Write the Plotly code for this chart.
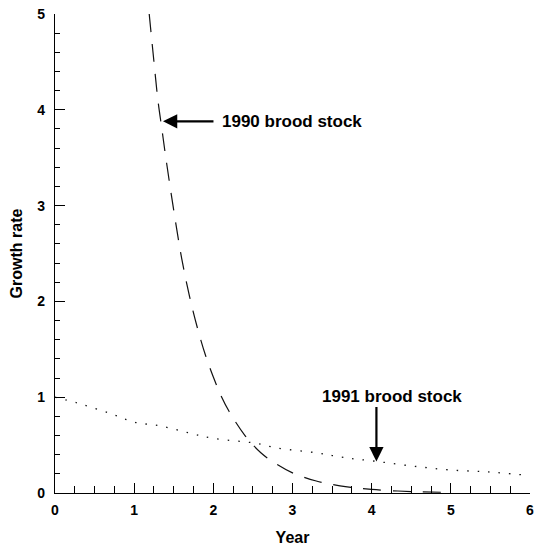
import plotly.graph_objects as go

# 1990 brood stock (dashed curve)
year_1990 = [1.19, 1.25, 1.30, 1.35, 1.40, 1.50, 1.60, 1.70, 1.80, 1.90, 2.00, 2.10, 2.20,
             2.40, 2.60, 2.80, 3.00, 3.30, 3.60, 4.00, 4.50, 5.00]
growth_1990 = [5.00, 4.50, 4.10, 3.80, 3.50, 2.95, 2.45, 2.05, 1.72, 1.44, 1.21, 1.01, 0.85,
               0.60, 0.42, 0.30, 0.21, 0.125, 0.075, 0.037, 0.015, 0.006]

# 1991 brood stock (dotted curve)
year_1991 = [0.00, 0.28, 0.70, 1.00, 1.33, 1.68, 2.00, 2.53, 2.80, 3.30, 3.65, 4.06,
             4.53, 5.00, 5.47, 5.90]
growth_1991 = [1.00, 0.94, 0.83, 0.74, 0.70, 0.63, 0.57, 0.52, 0.47, 0.42, 0.37, 0.33,
               0.28, 0.24, 0.22, 0.19]

x_ticks = [0, 1, 2, 3, 4, 5, 6]
y_ticks = [0, 1, 2, 3, 4, 5]

FONT = "Liberation Sans"

fig = go.Figure()
fig.add_trace(go.Scatter(x=year_1990, y=growth_1990, mode="lines",
                         line=dict(color="#111111", width=1.2, dash="18px,12px", shape="spline"),
                         showlegend=False, hoverinfo="skip"))
fig.add_trace(go.Scatter(x=year_1991, y=growth_1991, mode="lines",
                         line=dict(color="#111111", width=1.3, dash="1.5px,9px", shape="spline"),
                         showlegend=False, hoverinfo="skip"))

fig.add_annotation(x=1.364, y=3.88, xref="x", yref="y", text="", showarrow=True,
                   ax=52, ay=0, arrowhead=2, arrowsize=1.3, arrowwidth=2.2, arrowcolor="black")
fig.add_annotation(x=2.08, y=3.88, xref="x", yref="y", text="<b>1990 brood stock</b>",
                   showarrow=False, xanchor="left", yanchor="middle",
                   font=dict(family=FONT, size=17, color="black"))
fig.add_annotation(x=4.06, y=0.33, xref="x", yref="y", text="", showarrow=True,
                   ax=0, ay=-56, arrowhead=2, arrowsize=1.3, arrowwidth=2.2, arrowcolor="black")
fig.add_annotation(x=4.26, y=1.01, xref="x", yref="y", text="<b>1991 brood stock</b>",
                   showarrow=False, xanchor="center", yanchor="middle",
                   font=dict(family=FONT, size=17, color="black"))

fig.update_layout(
    width=537, height=548,
    margin=dict(l=55, r=7, t=14, b=55),
    paper_bgcolor="white", plot_bgcolor="white",
    font=dict(family=FONT, color="black"),
    xaxis=dict(range=[0, 6], tickvals=x_ticks, ticktext=[f"<b>{v}</b>" for v in x_ticks],
               automargin=False, ticklabeloverflow="allow",
               showline=True, linecolor="black", linewidth=1.3, showgrid=False, zeroline=False,
               ticks="inside", ticklen=10, tickwidth=1.2, tickcolor="black",
               minor=dict(dtick=0.25, tick0=0, ticks="inside", ticklen=7, tickwidth=1.2,
                          tickcolor="black", showgrid=False),
               tickfont=dict(family=FONT, size=14, color="black"), ticklabelstandoff=4,
               title=dict(text="<b>Year</b>", font=dict(family=FONT, size=16, color="black"),
                          standoff=14)),
    yaxis=dict(range=[0, 5], tickvals=y_ticks, ticktext=[f"<b>{v}</b>" for v in y_ticks],
               automargin=False, ticklabeloverflow="allow",
               showline=True, linecolor="black", linewidth=1.3, showgrid=False, zeroline=False,
               ticks="inside", ticklen=10, tickwidth=1.2, tickcolor="black",
               minor=dict(dtick=0.2, tick0=0, ticks="inside", ticklen=5, tickwidth=1.2,
                          tickcolor="black", showgrid=False),
               tickfont=dict(family=FONT, size=14, color="black"), ticklabelstandoff=6,
               title=dict(text="<b>Growth rate</b>", font=dict(family=FONT, size=16, color="black"),
                          standoff=10)),
)

fig.write_html("out.html", config={"displayModeBar": False},
               post_script="document.body.style.margin='0';document.body.style.overflow='hidden';")
